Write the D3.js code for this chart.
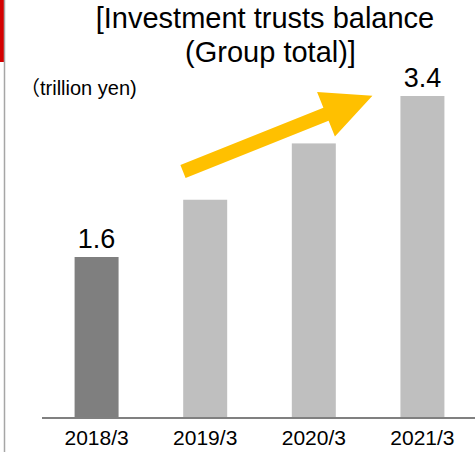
<!DOCTYPE html>
<html>
<head>
<meta charset="utf-8">
<script src="https://cdn.jsdelivr.net/npm/d3@7"></script>
<style>
  body { margin: 0; background: #fff; }
  text { font-family: "Liberation Sans", Arial, "Noto Sans CJK JP", sans-serif; fill: #000; }
</style>
</head>
<body>
<div id="chart"></div>
<script>
var categories = ['2018/3', '2019/3', '2020/3', '2021/3'];
var balances = [1.6, 2.24, 2.87, 3.4];
var valueLabels = ['1.6', '', '', '3.4'];
var barColors = ['#7f7f7f', '#bfbfbf', '#bfbfbf', '#bfbfbf'];
var titleLines = ['[Investment trusts balance', '(Group total)]'];
var unitLabel = '\uff08trillion yen)';

var width = 475,
    height = 455,
    baseline = 418;

var svg = d3.select('#chart')
  .append('svg')
  .attr('width', width)
  .attr('height', height);

// slide frame bits on the left edge
svg.append('rect')
  .attr('x', 0).attr('y', 0)
  .attr('width', 4).attr('height', 62)
  .attr('fill', '#d40000');
svg.append('line')
  .attr('x1', 4.5).attr('x2', 4.5)
  .attr('y1', 0).attr('y2', 452)
  .attr('stroke', '#a6a6a6')
  .attr('stroke-width', 1.5);

var x = d3.scaleBand()
  .domain(categories)
  .range([42, 477])
  .paddingInner(0.595)
  .paddingOuter(0.3);

var y = d3.scaleLinear()
  .domain([-0.2, 3.4])
  .range([baseline, 96]);

svg.selectAll('rect.bar')
  .data(balances)
  .enter()
  .append('rect')
  .attr('class', 'bar')
  .attr('x', function(d, i) { return x(categories[i]); })
  .attr('y', function(d) { return y(d); })
  .attr('width', x.bandwidth())
  .attr('height', function(d) { return baseline - y(d); })
  .attr('fill', function(d, i) { return barColors[i]; });

svg.selectAll('text.value')
  .data(balances)
  .enter()
  .append('text')
  .attr('class', 'value')
  .attr('x', function(d, i) { return x(categories[i]) + x.bandwidth() / 2; })
  .attr('y', function(d) { return y(d) - 9.5; })
  .attr('text-anchor', 'middle')
  .style('font-size', '27px')
  .text(function(d, i) { return valueLabels[i]; });

// baseline + category labels
var xAxis = svg.append('g')
  .attr('transform', 'translate(0,' + baseline + ')')
  .call(d3.axisBottom(x).tickSize(0).tickPadding(12));
xAxis.select('.domain')
  .attr('d', 'M42,0H475')
  .attr('stroke', '#808080')
  .attr('stroke-width', 2);
xAxis.selectAll('text')
  .style('font-size', '21px')
  .attr('fill', '#000');

// trend arrow
var arrowLen = 204, shaft = 14, headW = 48, headL = 50;
svg.append('path')
  .attr('transform', 'translate(183,171.5) rotate(-21.8)')
  .attr('d', 'M0,' + (-shaft / 2) +
    'L' + (arrowLen - headL) + ',' + (-shaft / 2) +
    'L' + (arrowLen - headL) + ',' + (-headW / 2) +
    'L' + arrowLen + ',0' +
    'L' + (arrowLen - headL) + ',' + (headW / 2) +
    'L' + (arrowLen - headL) + ',' + (shaft / 2) +
    'L0,' + (shaft / 2) + 'Z')
  .attr('fill', '#ffc000');

svg.selectAll('text.title')
  .data(titleLines)
  .enter()
  .append('text')
  .attr('class', 'title')
  .attr('x', function(d, i) { return i === 0 ? 265 : 270.5; })
  .attr('y', function(d, i) { return 28 + i * 34; })
  .attr('text-anchor', 'middle')
  .style('font-size', '29px')
  .text(function(d) { return d; });

svg.append('text')
  .attr('x', 20)
  .attr('y', 95)
  .style('font-size', '20px')
  .text(unitLabel);
</script>
</body>
</html>
